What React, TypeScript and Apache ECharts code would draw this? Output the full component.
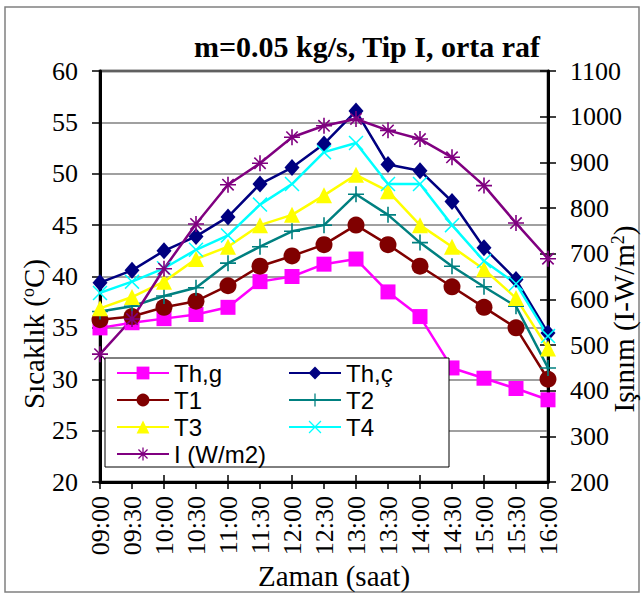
import React, { useEffect, useRef } from "react";
import * as echarts from "echarts";

const times = ["09:00", "09:30", "10:00", "10:30", "11:00", "11:30", "12:00", "12:30", "13:00", "13:30", "14:00", "14:30", "15:00", "15:30", "16:00"];
const thg = [35.0, 35.5, 35.9, 36.3, 37.0, 39.5, 40.0, 41.2, 41.7, 38.5, 36.1, 31.1, 30.1, 29.1, 28.0];
const thc = [39.4, 40.6, 42.5, 43.9, 45.8, 49.0, 50.6, 52.9, 56.1, 50.9, 50.3, 47.3, 42.8, 39.7, 34.5];
const t1 = [35.8, 36.1, 37.0, 37.6, 39.1, 41.0, 42.0, 43.1, 45.0, 43.1, 41.0, 39.0, 37.0, 35.0, 30.0];
const t2 = [36.6, 37.1, 38.1, 38.9, 41.3, 42.9, 44.4, 45.0, 48.0, 46.0, 43.3, 41.0, 39.0, 37.1, 31.1];
const t3 = [36.9, 38.0, 39.5, 41.7, 42.9, 45.0, 46.0, 47.9, 49.9, 48.3, 45.0, 42.9, 40.7, 37.9, 33.0];
const t4 = [38.4, 39.5, 40.8, 42.6, 44.0, 47.0, 49.0, 52.1, 53.0, 49.0, 49.0, 45.0, 41.5, 39.3, 34.2];
const irr = [480, 557, 667, 765, 851, 898, 955, 980, 995, 970, 951, 911, 849, 767, 689];

const PLUS = "path://M-1,-10L1,-10L1,-1L10,-1L10,1L1,1L1,10L-1,10L-1,1L-10,1L-10,-1L-1,-1Z";
const CROSS = "path://M-10,-8.6L-8.6,-10L10,8.6L8.6,10Z M8.6,-10L10,-8.6L-8.6,10L-10,8.6Z";
const STAR = "path://M-1,-10L1,-10L1,-1L10,-1L10,1L1,1L1,10L-1,10L-1,1L-10,1L-10,-1L-1,-1Z M-7.8,-6.4L-6.4,-7.8L7.8,6.4L6.4,7.8Z M6.4,-7.8L7.8,-6.4L-6.4,7.8L-7.8,6.4Z";

const SERIF = "Liberation Serif";
const SANS = "Liberation Sans";

export default function App() {
  const ref = useRef<HTMLDivElement>(null);
  useEffect(() => {
    if (!ref.current) return;
    const chart = echarts.init(ref.current, null, { renderer: "svg" });
    const mk = (name: string, data: number[], color: string, symbol: string, size: any, yAxisIndex = 0) => ({
      name,
      type: "line",
      data,
      yAxisIndex,
      symbol,
      symbolSize: size,
      showAllSymbol: true,
      lineStyle: { color, width: 2.5 },
      itemStyle: { color, borderWidth: 0 },
      z: 2,
    });
    const legendCommon = {
      orient: "vertical",
      itemWidth: 52,
      itemHeight: 16,
      itemGap: 3,
      padding: 0,
      z: 10,
      textStyle: { fontFamily: SANS, fontSize: 24, color: "#000", lineHeight: 24 },
    };
    chart.setOption({
      animation: false,
      backgroundColor: "#fff",
      title: {
        text: "m=0.05 kg/s, Tip I, orta raf",
        left: 362,
        top: 26,
        textAlign: "center",
        textStyle: { fontFamily: SERIF, fontSize: 30, fontWeight: "bold", color: "#000" },
      },
      grid: {
        left: 100,
        right: 95,
        top: 71,
        bottom: 113,
        show: true,
        backgroundColor: "#fff",
        borderColor: "#000",
        borderWidth: 2.5,
      },
      legend: [
        { ...legendCommon, left: 116, top: 361, data: ["Th,g", "T1", "T3", "I (W/m2)"] },
        { ...legendCommon, left: 288, top: 361, data: ["Th,ç", "T2", "T4"] },
      ],
      xAxis: [
        {
          type: "category",
          data: times,
          boundaryGap: false,
          axisLine: { lineStyle: { color: "#000", width: 3 } },
          axisTick: { show: true, inside: false, length: 7, lineStyle: { color: "#000", width: 1.5 } },
          axisLabel: { rotate: 90, margin: 14, fontFamily: SERIF, fontSize: 26, color: "#000", interval: 0 },
          splitLine: { show: false },
        },
        {
          type: "category",
          data: times,
          boundaryGap: false,
          position: "bottom",
          axisLine: { show: false },
          axisTick: { show: true, inside: true, length: 7, lineStyle: { color: "#000", width: 1.5 } },
          axisLabel: { show: false },
          splitLine: { show: false },
        },
      ],
      yAxis: [
        {
          type: "value",
          min: 20,
          max: 60,
          interval: 5,
          position: "left",
          axisLine: { show: true, lineStyle: { color: "#000", width: 3 } },
          axisTick: { show: true, length: 8, lineStyle: { color: "#000", width: 1.5 } },
          axisLabel: { margin: 22, fontFamily: SERIF, fontSize: 26, color: "#000" },
          splitLine: { show: true, lineStyle: { color: "#808080", width: 1.5 } },
        },
        {
          type: "value",
          min: 200,
          max: 1100,
          interval: 100,
          position: "right",
          axisLine: { show: true, lineStyle: { color: "#000", width: 3 } },
          axisTick: { show: true, length: 8, lineStyle: { color: "#000", width: 1.5 } },
          axisLabel: { margin: 22, fontFamily: SERIF, fontSize: 26, color: "#000", formatter: (v: number) => String(v) },
          splitLine: { show: false },
        },
        {
          type: "value",
          min: 200,
          max: 1100,
          interval: 100,
          position: "right",
          offset: 0,
          axisLine: { show: false },
          axisTick: { show: true, inside: true, length: 8, lineStyle: { color: "#000", width: 1.5 } },
          axisLabel: { show: false },
          splitLine: { show: false },
        },
      ],
      graphic: {
        elements: [
          {
            type: "rect",
            shape: { x: 5, y: 7, width: 634, height: 585 },
            style: { fill: "none", stroke: "#808080", lineWidth: 1.5 },
            z: 1,
            silent: true,
          },
          {
            type: "rect",
            shape: { x: 105, y: 358, width: 344, height: 109 },
            style: { fill: "#fff", stroke: "#000", lineWidth: 1 },
            z: 5,
            silent: true,
          },
          {
            type: "text",
            x: 34,
            y: 334,
            rotation: Math.PI / 2,
            style: {
              text: "{a|Sıcaklık (}{s|o}{a|C)}",
              align: "center",
              verticalAlign: "middle",
              rich: {
                a: { fontFamily: SERIF, fontSize: 29, fill: "#000" },
                s: { fontFamily: SERIF, fontSize: 18, fill: "#000", verticalAlign: "top", padding: [0, 0, 12, 0] },
              },
            },
            z: 6,
          },
          {
            type: "text",
            x: 624,
            y: 319,
            rotation: Math.PI / 2,
            style: {
              text: "{a|Işınım (I-W/m}{s|2}{a|)}",
              align: "center",
              verticalAlign: "middle",
              rich: {
                a: { fontFamily: SERIF, fontSize: 29, fill: "#000" },
                s: { fontFamily: SERIF, fontSize: 18, fill: "#000", verticalAlign: "top", padding: [0, 0, 12, 0] },
              },
            },
            z: 6,
          },
          {
            type: "text",
            x: 334,
            y: 576,
            style: {
              text: "Zaman (saat)",
              align: "center",
              verticalAlign: "middle",
              fontFamily: SERIF,
              fontSize: 29,
              fill: "#000",
            },
            z: 6,
          },
        ],
      },
      series: [
        mk("Th,g", thg, "#FF00FF", "rect", 15),
        mk("Th,ç", thc, "#000080", "diamond", [15, 17]),
        mk("T1", t1, "#800000", "circle", 17),
        mk("T2", t2, "#008080", PLUS, 16),
        mk("T3", t3, "#FFFF00", "triangle", 16),
        mk("T4", t4, "#00FFFF", CROSS, 15),
        mk("I (W/m2)", irr, "#800080", STAR, 16, 1),
      ],
    });
    return () => chart.dispose();
  }, []);
  return <div ref={ref} style={{ position: "absolute", left: 0, top: 0, width: 643, height: 595 }} />;
}
